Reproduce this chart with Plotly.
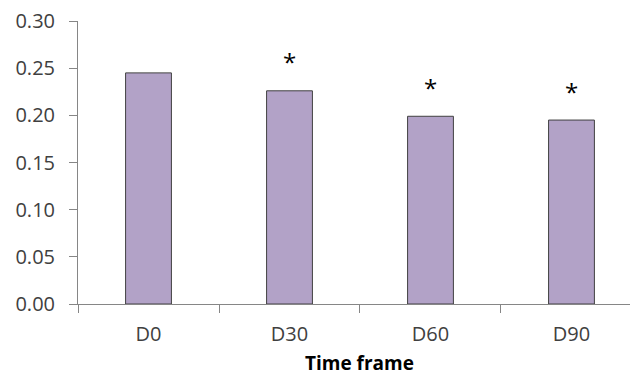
import plotly.graph_objects as go

# Measured values per time point
categories = ["D0", "D30", "D60", "D90"]
values = [0.245, 0.226, 0.199, 0.195]
significant = [False, True, True, True]

y_ticks = [0.00, 0.05, 0.10, 0.15, 0.20, 0.25, 0.30]
y_tick_labels = [f"{v:.2f}" for v in y_ticks]

FONT = "Open Sans"
TEXT_COLOR = "#404040"
AXIS_COLOR = "#868686"

fig = go.Figure()
fig.add_trace(go.Bar(
    x=categories,
    y=values,
    marker=dict(color="#B2A2C7", line=dict(color="#404040", width=1)),
    width=0.325,
    hoverinfo="x+y",
))

# Significance markers above bars
for cat, val, sig in zip(categories, values, significant):
    if sig:
        fig.add_annotation(
            x=cat, y=val, xref="x", yref="y",
            text="*", showarrow=False, yshift=29,
            font=dict(family=FONT, size=24, color="#000000"),
        )

# Axis title centred on the full category span
fig.add_annotation(
    x=1.5, y=0, xref="x", yref="paper",
    text="<b>Time frame</b>", showarrow=False,
    yshift=-59, yanchor="middle",
    font=dict(family=FONT, size=19, color="#000000"),
)

fig.update_layout(
    width=630, height=376,
    margin=dict(l=78, r=0, t=21, b=72),
    paper_bgcolor="white", plot_bgcolor="white",
    showlegend=False,
    font=dict(family=FONT, size=20, color=TEXT_COLOR),
    xaxis=dict(
        type="category",
        range=[-0.5, 3.415],
        showline=True, linecolor=AXIS_COLOR, linewidth=1,
        ticks="outside", tickson="boundaries", ticklen=8,
        tickcolor=AXIS_COLOR, tickwidth=1,
        ticklabelstandoff=12,
        showgrid=False, zeroline=False,
        tickfont=dict(family=FONT, size=20, color=TEXT_COLOR),
    ),
    yaxis=dict(
        range=[0, 0.30],
        tickvals=y_ticks, ticktext=y_tick_labels,
        showline=True, linecolor=AXIS_COLOR, linewidth=1,
        ticks="outside", ticklen=8, tickcolor=AXIS_COLOR, tickwidth=1,
        ticklabelstandoff=10,
        showgrid=False, zeroline=False,
        tickfont=dict(family=FONT, size=20, color=TEXT_COLOR),
    ),
)

fig.write_html("out.html")
